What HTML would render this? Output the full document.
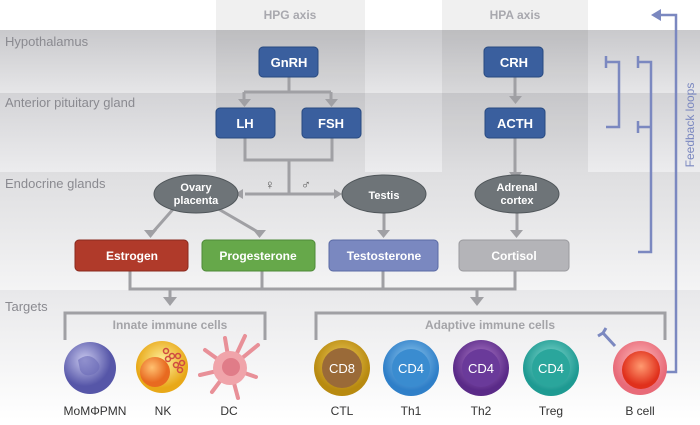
<!DOCTYPE html>
<html><head><meta charset="utf-8"><style>
body{margin:0;width:700px;height:420px;overflow:hidden;background:#fff;font-family:"Liberation Sans",sans-serif}
</style></head><body>
<svg width="700" height="420" viewBox="0 0 700 420" font-family="Liberation Sans, sans-serif">
<defs>
<linearGradient id="b1" x1="0" y1="0" x2="0" y2="1"><stop offset="0" stop-color="#c9c9cc"/><stop offset="1" stop-color="#e6e6e8"/></linearGradient>
<linearGradient id="b2" x1="0" y1="0" x2="0" y2="1"><stop offset="0" stop-color="#d3d3d6"/><stop offset="1" stop-color="#ececee"/></linearGradient>
<linearGradient id="b3" x1="0" y1="0" x2="0" y2="1"><stop offset="0" stop-color="#dedee0"/><stop offset="1" stop-color="#f4f4f5"/></linearGradient>
<linearGradient id="b4" x1="0" y1="0" x2="0" y2="1"><stop offset="0" stop-color="#e8e8ea"/><stop offset="1" stop-color="#ffffff"/></linearGradient>
<radialGradient id="mo" cx=".4" cy=".35"><stop offset="0" stop-color="#c8c8ee"/><stop offset="1" stop-color="#5656a8"/></radialGradient>
<radialGradient id="nk" cx=".5" cy=".4"><stop offset="0" stop-color="#fff1a0"/><stop offset="1" stop-color="#e8a818"/></radialGradient>
<radialGradient id="nkn" cx=".4" cy=".35"><stop offset="0" stop-color="#ffc070"/><stop offset="1" stop-color="#e86a20"/></radialGradient>
<radialGradient id="ctl" cx=".5" cy=".4"><stop offset="0" stop-color="#f2d060"/><stop offset="1" stop-color="#b88a10"/></radialGradient>
<radialGradient id="th1" cx=".5" cy=".4"><stop offset="0" stop-color="#9ad0f2"/><stop offset="1" stop-color="#2f7fc8"/></radialGradient>
<radialGradient id="th2" cx=".5" cy=".4"><stop offset="0" stop-color="#b884d0"/><stop offset="1" stop-color="#5a2a88"/></radialGradient>
<radialGradient id="tr" cx=".5" cy=".4"><stop offset="0" stop-color="#8ee0d6"/><stop offset="1" stop-color="#1e9a92"/></radialGradient>
<radialGradient id="bc" cx=".5" cy=".4"><stop offset="0" stop-color="#ffc0c0"/><stop offset="1" stop-color="#e86a78"/></radialGradient>
<radialGradient id="bcn" cx=".5" cy=".4"><stop offset="0" stop-color="#ff9a70"/><stop offset="1" stop-color="#e0301c"/></radialGradient>
</defs>
<rect x="0" y="30" width="700" height="63" fill="url(#b1)"/>
<rect x="0" y="93" width="700" height="79" fill="url(#b2)"/>
<rect x="0" y="172" width="700" height="118" fill="url(#b3)"/>
<rect x="0" y="290" width="700" height="130" fill="url(#b4)"/>
<rect x="216" y="0" width="149" height="172" fill="#000" opacity=".06"/>
<rect x="442" y="0" width="146" height="172" fill="#000" opacity=".06"/>
<g font-size="13" fill="#8a8a90">
<text x="5" y="46">Hypothalamus</text><text x="5" y="107">Anterior pituitary gland</text>
<text x="5" y="188">Endocrine glands</text><text x="5" y="311">Targets</text></g>
<g font-size="12" font-weight="bold" fill="#a8a8ae" text-anchor="middle"><text x="290" y="19">HPG axis</text><text x="515" y="19">HPA axis</text></g>
<g stroke="#a0a0a4" stroke-width="3" fill="none">
<path d="M289 77V92M244 92H331M244 92V100M331 92V100"/>
<path d="M245 138V160H332V138M289 160V194M245 194H335M515 77V97M515 138V173"/>
<path d="M175 207L153 232M215 207L258 232M384 212V232M517 212V232"/>
<path d="M130 271V289H515V271M262 271V289M383 271V289M170 289V298M477 289V298"/>
<path d="M65 340V313H265V340M316 340V313H665V340"/>
</g>
<g fill="#a0a0a4">
<path d="M238 99h13l-6.5 8z"/><path d="M325 99h13l-6.5 8z"/><path d="M509 96h13l-6.5 8z"/><path d="M509 172h13l-6.5 8z"/>
<path d="M243 189v10l-8-5z"/><path d="M334 189v10l8-5z"/>
<path d="M144 230h13l-6.5 8z"/><path d="M253 230h13l-6.5 8z"/><path d="M377 230h13l-6.5 8z"/><path d="M510 230h13l-6.5 8z"/>
<path d="M163 297h14l-7 9z"/><path d="M470 297h14l-7 9z"/></g>
<g font-size="13" fill="#555"><text x="265" y="189">♀</text><text x="301" y="189">♂</text></g>
<g fill="#3a5f9e" stroke="#284a80"><rect x="259" y="47" width="59" height="30" rx="4"/><rect x="216" y="108" width="59" height="30" rx="4"/><rect x="302" y="108" width="59" height="30" rx="4"/><rect x="484" y="47" width="59" height="30" rx="4"/><rect x="485" y="108" width="60" height="30" rx="4"/></g>
<g fill="#fff" font-size="13" font-weight="bold" text-anchor="middle"><text x="289" y="67">GnRH</text><text x="245" y="128">LH</text><text x="331" y="128">FSH</text><text x="514" y="67">CRH</text><text x="515" y="128">ACTH</text></g>
<g fill="#6e7478" stroke="#50565a"><ellipse cx="196" cy="194" rx="42" ry="19"/><ellipse cx="384" cy="194" rx="42" ry="19"/><ellipse cx="517" cy="194" rx="42" ry="19"/></g>
<g fill="#fff" font-size="11" font-weight="bold" text-anchor="middle"><text x="196" y="191">Ovary</text><text x="196" y="204">placenta</text><text x="384" y="199">Testis</text><text x="517" y="191">Adrenal</text><text x="517" y="204">cortex</text></g>
<rect x="75" y="240" width="113" height="31" rx="4" fill="#b03a2a" stroke="#8a2a1e"/>
<rect x="202" y="240" width="113" height="31" rx="4" fill="#66a84a" stroke="#4e8a38"/>
<rect x="329" y="240" width="109" height="31" rx="4" fill="#7a88c0" stroke="#5a6aa4"/>
<rect x="459" y="240" width="110" height="31" rx="4" fill="#b4b4b8" stroke="#9a9a9e"/>
<g fill="#fff" font-size="12" font-weight="bold" text-anchor="middle"><text x="132" y="260">Estrogen</text><text x="258" y="260">Progesterone</text><text x="384" y="260">Testosterone</text><text x="514" y="260">Cortisol</text></g>
<g font-size="12" font-weight="bold" fill="#a4a4a8" text-anchor="middle"><text x="170" y="329">Innate immune cells</text><text x="490" y="329">Adaptive immune cells</text></g>
<g stroke="#7b88c0" stroke-width="2.5" fill="none">
<path d="M665 372H676V15H660"/><path d="M638 62H651V252H638M638 127H651M606 62H619V127H606M638 56V68M638 121V133M606 56V68"/></g>
<path d="M661 9v12l-10-6z" fill="#7b88c0"/>
<text transform="translate(694 125) rotate(-90)" font-size="12" fill="#7b88c0" text-anchor="middle">Feedback loops</text>
<circle cx="90" cy="368" r="26" fill="url(#mo)"/><path d="M78 360q10-8 18 0q8 8-2 14q-10 4-14-4z" fill="#6a6ab8" opacity=".6"/>
<circle cx="162" cy="367" r="26" fill="url(#nk)"/><circle cx="155" cy="372" r="15" fill="url(#nkn)"/>
<g fill="none" stroke="#d04a40" stroke-width="1.5"><circle cx="166" cy="351" r="2.5"/><circle cx="172" cy="356" r="2.5"/><circle cx="178" cy="356" r="2.5"/><circle cx="182" cy="363" r="2.5"/><circle cx="176" cy="365" r="2.5"/><circle cx="180" cy="370" r="2.5"/><circle cx="168" cy="359" r="2.5"/></g>
<g stroke="#e89098" stroke-width="4" stroke-linecap="round"><path d="M230 368L205 350M230 368L258 345M230 368L256 377M230 368L238 398M230 368L212 392M230 368L225 338M230 368L245 336M230 368L200 375"/></g>
<circle cx="230" cy="368" r="17" fill="#f0a4aa"/><circle cx="231" cy="367" r="9" fill="#e07c88"/>
<circle cx="342" cy="368" r="28" fill="url(#ctl)"/><circle cx="342" cy="368" r="20" fill="#9a6a38"/>
<circle cx="411" cy="368" r="28" fill="url(#th1)"/><circle cx="411" cy="368" r="19" fill="#3a8cd0"/>
<circle cx="481" cy="368" r="28" fill="url(#th2)"/><circle cx="481" cy="368" r="19" fill="#6a3a9a"/>
<circle cx="551" cy="368" r="28" fill="url(#tr)"/><circle cx="551" cy="368" r="19" fill="#2aa69c"/>
<g fill="#fff" font-size="13" text-anchor="middle"><text x="342" y="373">CD8</text><text x="411" y="373">CD4</text><text x="481" y="373">CD4</text><text x="551" y="373">CD4</text></g>
<path d="M615 346L603 333M603 333L598 336M603 333L606 328" stroke="#7b88c0" stroke-width="3" fill="none"/>
<circle cx="640" cy="368" r="27" fill="url(#bc)"/><circle cx="641" cy="370" r="19" fill="url(#bcn)"/>
<g font-size="12" fill="#333" text-anchor="middle"><text x="95" y="415">MoMΦPMN</text><text x="163" y="415">NK</text><text x="229" y="415">DC</text><text x="342" y="415">CTL</text><text x="411" y="415">Th1</text><text x="481" y="415">Th2</text><text x="551" y="415">Treg</text><text x="640" y="415">B cell</text></g>
</svg>
</body></html>
